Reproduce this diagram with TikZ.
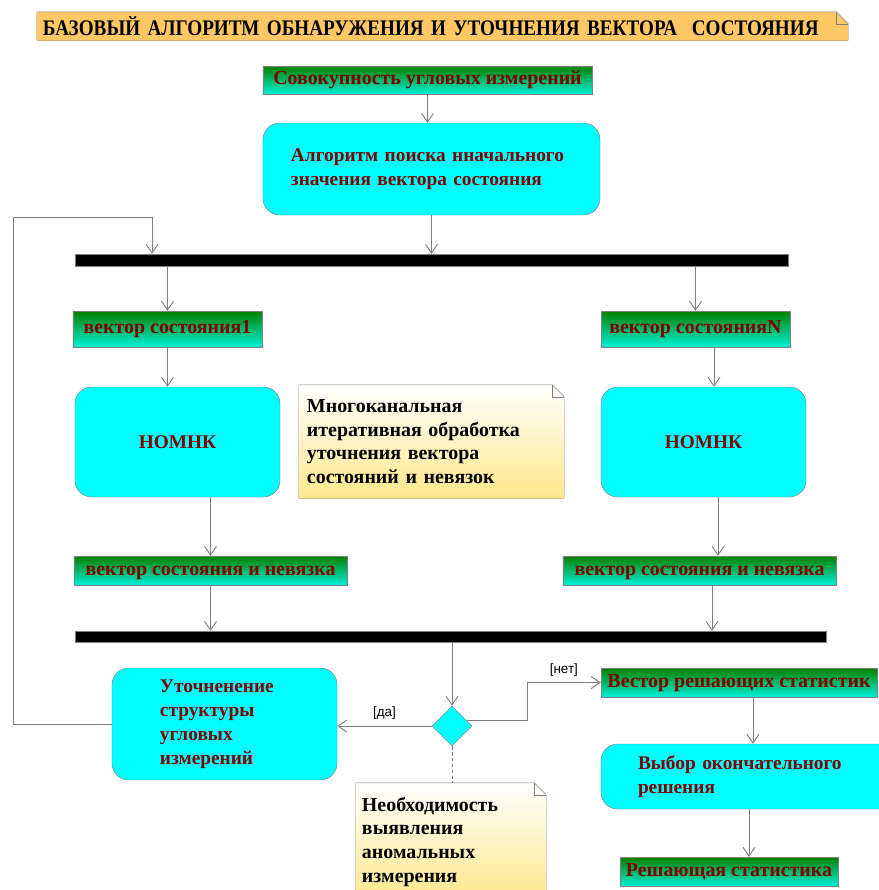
\documentclass[tikz,border=0pt]{standalone}
\usepackage{fontspec}
\setmainfont{Liberation Serif}
\newfontfamily\labelfont{Liberation Sans}
\newfontfamily\titlefont[FakeStretch=0.86]{Liberation Serif}
\usetikzlibrary{shapes,arrows.meta}
\usetikzlibrary{positioning}

\definecolor{linegray}{RGB}{128,128,128}
\definecolor{textred}{RGB}{128,0,0}
\definecolor{boxcyan}{RGB}{0,255,255}
\definecolor{flowgreen}{RGB}{0,128,0}
\definecolor{flowcyan}{RGB}{0,240,215}
\definecolor{titleorange}{RGB}{255,200,100}
\definecolor{noteyellow}{RGB}{255,232,140}

\tikzset{
  flow/.style={draw=linegray, line width=0.8pt, -{Straight Barb[length=2.6mm,width=3.6mm]}},
  objbox/.style={rectangle, draw=linegray, top color=flowgreen, bottom color=flowcyan, text=textred,
    font=\fontsize{17}{20}\selectfont\bfseries, inner sep=0pt, text height=1.8ex, text depth=0.1ex},
  actbox/.style={rectangle, rounded corners=0.5cm, draw=linegray, fill=boxcyan, text=textred,
    font=\fontsize{16.5}{20.5}\selectfont\bfseries, align=left},
  syncbar/.style={rectangle, draw=linegray, fill=black, inner sep=0pt},
  notebox/.style={rectangle, top color=white, bottom color=noteyellow, text=black,
    font=\fontsize{17}{20.2}\selectfont\bfseries, align=left},
  edgelabel/.style={font=\labelfont\fontsize{11.5}{12}\selectfont, inner xsep=3pt, inner ysep=5pt}
}

% note outline with folded corner
\newcommand{\foldnote}[1]{%
  \fill[white] ([xshift=-0.36cm]#1.north east) -- (#1.north east) -- ([yshift=-0.36cm]#1.north east) -- cycle;
  \draw[linegray] (#1.north west) -- ([xshift=-0.36cm]#1.north east) -- ([yshift=-0.36cm]#1.north east)
    -- (#1.south east) -- (#1.south west) -- cycle;
  \draw[linegray] ([xshift=-0.36cm]#1.north east) |- ([yshift=-0.36cm]#1.north east);
}

\begin{document}
\begin{tikzpicture}[x=0.03cm,y=-0.03cm]
        \useasboundingbox (0,0) rectangle (879,890);
        \clip (0,0) rectangle (879,890);

        \node at (442.5,26) [notebox, top color=titleorange, bottom color=titleorange,
          minimum width=24.33cm, minimum height=0.84cm, text width=23.97cm, inner xsep=0.18cm, inner ysep=0pt,
          font=\titlefont\fontsize{19}{20}\selectfont\bfseries] (title)
          {БАЗОВЫЙ АЛГОРИТМ ОБНАРУЖЕНИЯ И УТОЧНЕНИЯ ВЕКТОРА\ \ СОСТОЯНИЯ};
        \foldnote{title}

        \node at (427.5,80) [objbox, minimum width=9.87cm, minimum height=0.84cm] (angles) {Совокупность угловых измерений};
        \node at (431.5,169) [actbox, minimum width=10.11cm, minimum height=2.76cm, text width=8.43cm, inner xsep=0.84cm] (search)
          {Алгоритм поиска нначального\\значения вектора состояния};
        \node at (431.5,260) [syncbar, minimum width=21.39cm, minimum height=0.36cm] (fork) {};

        \node at (167.5,329) [objbox, minimum width=5.67cm, minimum height=1.08cm] (stateA) {вектор состояния1};
        \node at (695.5,329) [objbox, minimum width=5.67cm, minimum height=1.08cm] (stateN) {вектор состоянияN};

        \node at (177.5,442) [actbox, minimum width=6.15cm, minimum height=3.3cm] (nomnkA) {НОМНК};
        \node at (703.5,442) [actbox, minimum width=6.15cm, minimum height=3.3cm] (nomnkN) {НОМНК};
        \node at (431.5,441.5) [notebox, minimum width=7.95cm, minimum height=3.39cm, text width=7.47cm, inner xsep=0.24cm] (multinote)
          {Многоканальная\\итеративная обработка\\уточнения вектора\\состояний и невязок};
        \foldnote{multinote}

        \node at (210.5,570.5) [objbox, minimum width=8.19cm, minimum height=0.87cm] (residA) {вектор состояния и невязка};
        \node at (699.5,570.5) [objbox, minimum width=8.19cm, minimum height=0.87cm] (residN) {вектор состояния и невязка};
        \node at (450.5,636.5) [syncbar, minimum width=22.53cm, minimum height=0.33cm] (join) {};

        \node at (452,726) [diamond, draw=linegray, fill=boxcyan, minimum size=1.2cm, inner sep=0pt] (anomaly) {};
        \node at (224.5,724) [actbox, minimum width=6.75cm, minimum height=3.36cm, text width=3.87cm, inner xsep=1.44cm] (refine)
          {Уточненение\\структуры\\угловых\\измерений};
        \node at (739,682.5) [objbox, minimum width=8.28cm, minimum height=0.87cm] (statvec) {Вестор решающих статистик};
        \node at (753,776.5) [actbox, minimum width=9.12cm, minimum height=1.95cm, text width=6.9cm, inner xsep=1.11cm] (choice)
          {Выбор окончательного\\решения};
        \node at (729,871.5) [objbox, minimum width=6.54cm, minimum height=0.87cm] (final) {Решающая статистика};
        \node at (451,841.5) [notebox, minimum width=5.7cm, minimum height=3.51cm, text width=5.34cm, inner xsep=0.18cm] (anomnote)
          {Необходимость\\выявления\\аномальных\\измерения};
        \foldnote{anomnote}

        \coordinate (loopcorner) at (13,217);
        \coordinate (loopin) at (152,217);
        \coordinate (noturn) at (527,682.5);

        \draw[flow] (angles.south) -- (angles.south |- search.north);
        \draw[flow] (search.south) -- (search.south |- fork.north);
        \draw[flow] (stateA.north |- fork.south) -- (stateA.north);
        \draw[flow] (stateN.north |- fork.south) -- (stateN.north);
        \draw[flow] (stateA.south) -- (stateA.south |- nomnkA.north);
        \draw[flow] ([xshift=0.555cm]stateN.south) -- ([xshift=0.555cm]stateN.south |- nomnkN.north);
        \draw[flow] (residA.north |- nomnkA.south) -- (residA.north);
        \draw[flow] ([xshift=0.435cm]nomnkN.south) -- ([xshift=0.435cm]nomnkN.south |- residN.north);
        \draw[flow] (residA.south) -- (residA.south |- join.north);
        \draw[flow] ([xshift=0.375cm]residN.south) -- ([xshift=0.375cm]residN.south |- join.north);
        \draw[flow] (anomaly.north |- join.south) -- (anomaly.north);

        \draw[flow] (anomaly.west) -- (anomaly.west -| refine.east) node [midway, above, edgelabel] (yes) {[да]};
        \draw[flow] (anomaly.20) -| (noturn) -- (statvec.west) node [midway, above, edgelabel] (no) {[нет]};
        \draw[flow] (refine.west) -| (loopcorner) -- (loopin) -- (loopin |- fork.north);

        \draw[flow] ([xshift=0.42cm]statvec.south) -- ([xshift=0.42cm]statvec.south |- choice.north);
        \draw[flow] ([xshift=0.6cm]final.north |- choice.south) -- ([xshift=0.6cm]final.north);
        \draw[linegray, line width=0.8pt, densely dashed] (anomaly.south) -- (anomaly.south |- anomnote.north);
    \end{tikzpicture}
\end{document}
